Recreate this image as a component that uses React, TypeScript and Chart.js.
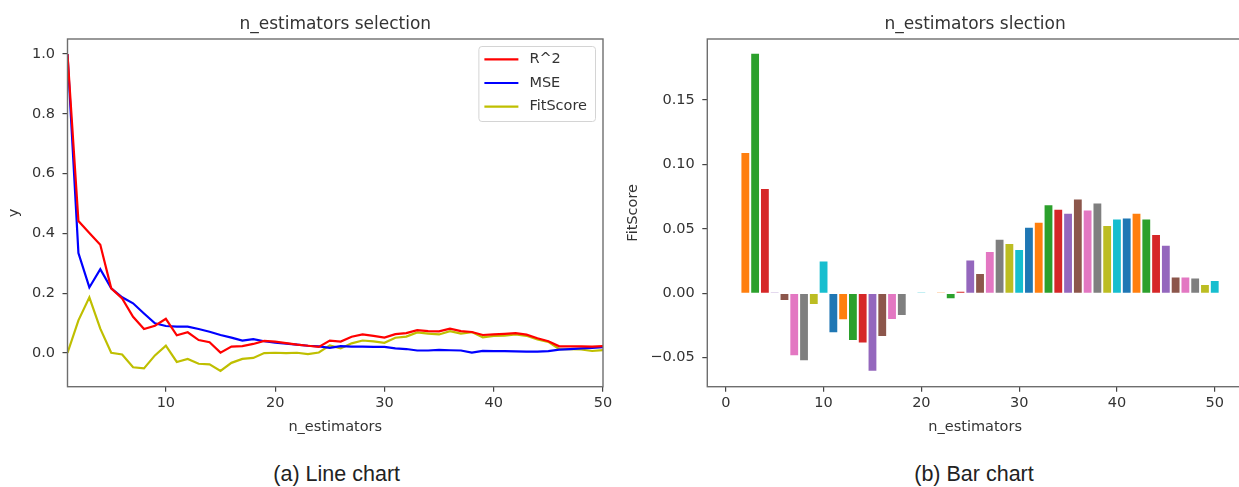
import React, { useEffect, useRef } from "react";
import { Chart, registerables } from "chart.js";

Chart.register(...registerables);

// ---------------- data ----------------
const nEstimators = [
  1, 2, 3, 4, 5, 6, 7, 8, 9, 10, 11, 12, 13, 14, 15, 16, 17, 18, 19, 20, 21, 22, 23, 24, 25,
  26, 27, 28, 29, 30, 31, 32, 33, 34, 35, 36, 37, 38, 39, 40, 41, 42, 43, 44, 45, 46, 47, 48, 49, 50,
];

const r2Values = [
  1.0, 0.441, 0.401, 0.362, 0.216, 0.182, 0.121, 0.08, 0.091, 0.114, 0.059, 0.069, 0.043, 0.036, 0.001,
  0.021, 0.023, 0.03, 0.04, 0.038, 0.033, 0.028, 0.024, 0.02, 0.041, 0.038, 0.054, 0.062, 0.057, 0.051,
  0.063, 0.066, 0.076, 0.073, 0.072, 0.081, 0.073, 0.07, 0.06, 0.062, 0.064, 0.066, 0.061, 0.049, 0.039,
  0.022, 0.022, 0.022, 0.021, 0.023,
];

const mseValues = [
  1.0, 0.334, 0.219, 0.28, 0.216, 0.186, 0.166, 0.132, 0.099, 0.09, 0.088, 0.088, 0.08, 0.071, 0.06,
  0.051, 0.041, 0.046, 0.039, 0.034, 0.031, 0.028, 0.024, 0.022, 0.017, 0.023, 0.021, 0.021, 0.02, 0.02,
  0.015, 0.013, 0.008, 0.008, 0.01, 0.009, 0.008, 0.001, 0.007, 0.006, 0.006, 0.005, 0.004, 0.004, 0.006,
  0.011, 0.013, 0.015, 0.017, 0.019,
];

const fitScoreValues = [
  0.0, 0.109, 0.186, 0.081, 0.0003, -0.0052, -0.048, -0.052, -0.0083, 0.0246, -0.0303, -0.0202, -0.0363,
  -0.0381, -0.0601, -0.0332, -0.0199, -0.0168, -0.0005, 0.0006, -0.0005, 0.0006, -0.0039, 0.0013, 0.0254,
  0.015, 0.0321, 0.0415, 0.0383, 0.0337, 0.0508, 0.0547, 0.0684, 0.0648, 0.0617, 0.0728, 0.0643, 0.0697,
  0.0523, 0.0573, 0.058, 0.0617, 0.0573, 0.0453, 0.037, 0.0122, 0.0122, 0.0114, 0.0065, 0.0096,
];

const seriesLabels = ["R^2", "MSE", "FitScore"];
const seriesColors = ["#ff0000", "#0000ff", "#bfbf00"];
const tab10 = [
  "#1f77b4", "#ff7f0e", "#2ca02c", "#d62728", "#9467bd",
  "#8c564b", "#e377c2", "#7f7f7f", "#bcbd22", "#17becf",
];

const lineXTicks = [10, 20, 30, 40, 50];
const lineYTicks = [0.0, 0.2, 0.4, 0.6, 0.8, 1.0];
const barXTicks = [0, 10, 20, 30, 40, 50];
const barYTicks = [-0.05, 0.0, 0.05, 0.1, 0.15];

const lineTitle = "n_estimators selection";
const barTitle = "n_estimators slection";
const xAxisLabel = "n_estimators";
const lineYLabel = "y";
const barYLabel = "FitScore";
const captions = ["(a) Line chart", "(b) Bar chart"];

// ---------------- style ----------------
const FONT = "'DejaVu Sans', sans-serif";
const TEXT = "#333333";
const FRAME = "#6e6e6e";
const TICKFONT = { family: FONT, size: 14.5 };

const framePlugin = {
  id: "frame",
  afterDraw(chart: any) {
    const { ctx, chartArea: a } = chart;
    ctx.save();
    ctx.strokeStyle = FRAME;
    ctx.lineWidth = 1.4;
    ctx.strokeRect(a.left, a.top, a.right - a.left, a.bottom - a.top);
    ctx.restore();
  },
};

const innerLegendPlugin = {
  id: "innerLegend",
  afterDraw(chart: any) {
    const opts = chart.options.plugins.innerLegend;
    if (!opts || !opts.display) return;
    const { ctx, chartArea: a } = chart;
    const ds = chart.data.datasets;
    ctx.save();
    ctx.font = `14.5px ${FONT}`;
    let maxW = 0;
    ds.forEach((d: any) => (maxW = Math.max(maxW, ctx.measureText(d.label).width)));
    const rowH = 23.7;
    const boxW = 6 + 34 + 11 + maxW + 8;
    const boxH = 75;
    const right = a.right - 8;
    const top = a.top + 7;
    const left = right - boxW;
    ctx.fillStyle = "rgba(255,255,255,0.85)";
    ctx.strokeStyle = "#d4d4d4";
    ctx.lineWidth = 1;
    ctx.beginPath();
    (ctx as any).roundRect(left + 0.5, top + 0.5, boxW, boxH, 3);
    ctx.fill();
    ctx.stroke();
    ds.forEach((d: any, i: number) => {
      const y = top + 13.3 + i * rowH;
      ctx.strokeStyle = d.borderColor;
      ctx.lineWidth = 2.2;
      ctx.beginPath();
      ctx.moveTo(left + 6, y);
      ctx.lineTo(left + 40, y);
      ctx.stroke();
      ctx.fillStyle = TEXT;
      ctx.textBaseline = "middle";
      ctx.textAlign = "left";
      ctx.fillText(d.label, left + 51, y);
    });
    ctx.restore();
  },
};

function axisCommon(ticks: number[], fmt: (v: number) => string, pad: number) {
  return {
    afterBuildTicks: (s: any) => {
      s.ticks = ticks.map((v) => ({ value: v }));
    },
    grid: {
      display: true,
      offset: false,
      drawOnChartArea: false,
      drawTicks: true,
      tickLength: 5,
      color: "#444444",
      lineWidth: 1.2,
    },
    border: { display: false },
    ticks: {
      font: TICKFONT,
      color: TEXT,
      padding: pad,
      maxRotation: 0,
      autoSkip: false,
      callback: (v: any) => fmt(Number(v)),
    },
  };
}

function titleOpts(text: string) {
  return {
    display: true,
    text,
    fullSize: false,
    color: TEXT,
    font: { family: FONT, size: 17, weight: "normal" as const },
    padding: { top: 14, bottom: 4.6 },
  };
}

const fmtBarY = (v: number) => {
  const s = Math.abs(v).toFixed(2);
  return v < -1e-9 ? "\u2212" + s : s;
};

function LineChart() {
  const ref = useRef<HTMLCanvasElement>(null);
  useEffect(() => {
    const chart = new Chart(ref.current as HTMLCanvasElement, {
      type: "line",
      data: {
        datasets: [r2Values, mseValues, fitScoreValues].map((vals, i) => ({
          label: seriesLabels[i],
          data: nEstimators.map((x, j) => ({ x, y: vals[j] })),
          borderColor: seriesColors[i],
          backgroundColor: seriesColors[i],
          borderWidth: 2.2,
          pointRadius: 0,
          tension: 0,
        })),
      },
      options: {
        responsive: false,
        animation: false,
        devicePixelRatio: 1,
        layout: { padding: { left: 0, right: 17, top: 0, bottom: 0 } },
        plugins: {
          legend: { display: false },
          tooltip: { enabled: false },
          title: titleOpts(lineTitle),
          innerLegend: { display: true },
        } as any,
        scales: {
          x: {
            type: "linear",
            min: 1,
            max: 50,
            ...axisCommon(lineXTicks, (v) => String(v), 2.5),
            title: {
              display: true,
              text: xAxisLabel,
              color: TEXT,
              font: TICKFONT,
              padding: { top: 0, bottom: 9.3 },
            },
            afterFit: (s: any) => {
              s.height = 58.3;
            },
          } as any,
          y: {
            type: "linear",
            min: -0.113,
            max: 1.05,
            ...axisCommon(lineYTicks, (v) => v.toFixed(1), 7.5),
            title: {
              display: true,
              text: lineYLabel,
              color: TEXT,
              font: TICKFONT,
              padding: { top: 5.3, bottom: 0 },
            },
            afterFit: (s: any) => {
              s.width = 67.5;
            },
          } as any,
        },
      },
      plugins: [framePlugin, innerLegendPlugin],
    });
    return () => chart.destroy();
  }, []);
  return (
    <canvas
      ref={ref}
      width={620}
      height={445}
      style={{ position: "absolute", left: 0, top: 0 }}
    />
  );
}

function BarChart() {
  const ref = useRef<HTMLCanvasElement>(null);
  useEffect(() => {
    const chart = new Chart(ref.current as HTMLCanvasElement, {
      type: "bar",
      data: {
        datasets: [
          {
            label: barYLabel,
            data: nEstimators.map((x, j) => ({ x, y: fitScoreValues[j] })),
            backgroundColor: fitScoreValues.map((_, i) => tab10[i % tab10.length]),
            borderWidth: 0,
            barPercentage: 0.8,
            categoryPercentage: 1.0,
          },
        ],
      },
      options: {
        responsive: false,
        animation: false,
        devicePixelRatio: 1,
        layout: { padding: { left: 0, right: 7, top: 0, bottom: 0 } },
        plugins: {
          legend: { display: false },
          tooltip: { enabled: false },
          title: titleOpts(barTitle),
        },
        scales: {
          x: {
            type: "linear",
            min: -1.89,
            max: 52.89,
            offset: false,
            ...axisCommon(barXTicks, (v) => String(v), 2.5),
            title: {
              display: true,
              text: xAxisLabel,
              color: TEXT,
              font: TICKFONT,
              padding: { top: 0, bottom: 9.3 },
            },
            afterFit: (s: any) => {
              s.height = 58.3;
            },
          } as any,
          y: {
            type: "linear",
            min: -0.0725,
            max: 0.1974,
            ...axisCommon(barYTicks, fmtBarY, 7.5),
            title: {
              display: true,
              text: barYLabel,
              color: TEXT,
              font: TICKFONT,
              padding: { top: 4.6, bottom: 0 },
            },
            afterFit: (s: any) => {
              s.width = 87.3;
            },
          } as any,
        },
      },
      plugins: [framePlugin],
    });
    return () => chart.destroy();
  }, []);
  return (
    <canvas
      ref={ref}
      width={630}
      height={445}
      style={{ position: "absolute", left: 620, top: 0 }}
    />
  );
}

const captionCenters = [336.7, 974];

export default function App() {
  return (
    <div
      style={{
        position: "fixed",
        left: 0,
        top: 0,
        width: 1239,
        height: 487,
        overflow: "hidden",
        background: "#ffffff",
      }}
    >
      <LineChart />
      <BarChart />
      {captions.map((c, i) => (
        <div
          key={c}
          style={{
            position: "absolute",
            left: captionCenters[i],
            top: 462,
            transform: "translateX(-50%)",
            whiteSpace: "nowrap",
            fontFamily: "'Liberation Sans', Arial, sans-serif",
            fontSize: 21.5,
            lineHeight: "24px",
            color: "#222222",
          }}
        >
          {c}
        </div>
      ))}
    </div>
  );
}
